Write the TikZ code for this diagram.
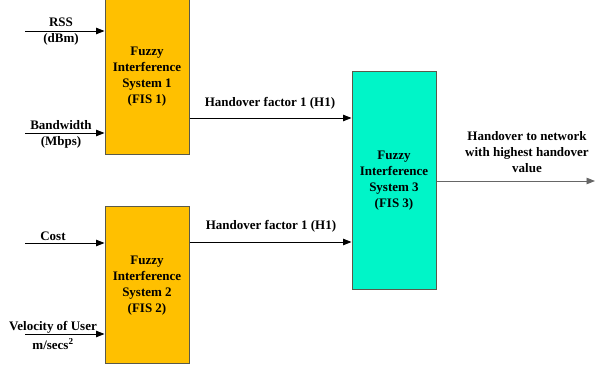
\documentclass[tikz,border=0pt]{standalone}
\usepackage{fontspec}
\setmainfont{Liberation Serif}
\usetikzlibrary{arrows.meta}
\definecolor{fisorange}{HTML}{FFC000}
\definecolor{fisteal}{HTML}{00F5C8}
\definecolor{fisborder}{HTML}{5A5A4A}
\begin{document}
\begin{tikzpicture}[x=1pt,y=1pt,
  fisbox/.style={draw=fisborder,line width=1pt,minimum width=84pt,inner sep=0pt,align=center,
    font=\fontsize{13}{16}\selectfont\bfseries},
  lbl/.style={inner sep=0pt,align=center,font=\fontsize{13}{16}\selectfont\bfseries},
  arr/.style={line width=0.9pt,-{Triangle[length=8.5pt,width=6.5pt]}}]
\useasboundingbox (0,0) rectangle (595,371);
\fill[white] (0,0) rectangle (595,371);
% boxes
\node[fisbox,fill=fisorange,minimum height=157pt] (fis1) at (147,371-76.5) {Fuzzy\\Interference\\System 1\\(FIS 1)};
\node[fisbox,fill=fisorange,minimum height=157pt] (fis2) at (147,371-285.5) {Fuzzy\\Interference\\System 2\\(FIS 2)};
\node[fisbox,fill=fisteal,minimum height=218pt] (fis3) at (394,371-181) {Fuzzy\\Interference\\System 3\\(FIS 3)};
% input start points
\coordinate (rssin) at (25,371-31);
\coordinate (bwin) at (25,371-133);
\coordinate (costin) at (25,371-243);
\coordinate (velin) at (25,371-334);
\coordinate (outend) at (595,371-181);
% arrows
\draw[arr] (rssin) -- (rssin -| fis1.west);
\draw[arr] (bwin) -- (bwin -| fis1.west);
\draw[arr] (costin) -- (costin -| fis2.west);
\draw[arr] (velin) -- (velin -| fis2.west);
\draw[arr] (fis1.east |- 0,371-118) -- (fis3.west |- 0,371-118);
\draw[arr] (fis2.east |- 0,371-242) -- (fis3.west |- 0,371-242);
\draw[arr,draw=gray!80!black] (fis3.east |- outend) -- (outend);
% labels
\node[lbl] (lrss) at (61,371-22) {RSS};
\node[lbl] (ldbm) at (61,371-39) {(dBm)};
\node[lbl] (lbw) at (61,371-125) {Bandwidth};
\node[lbl] (lmbps) at (61,371-142) {(Mbps)};
\node[lbl] (lcost) at (53,371-236) {Cost};
\node[lbl] (lvel) at (53,371-327) {Velocity of User};
\node[lbl] (lms) at (53,371-344) {m/secs\textsuperscript{2}};
\node[lbl] (lh1) at (270,371-103) {Handover factor 1 (H1)};
\node[lbl] (lh2) at (271,371-226) {Handover factor 1 (H1)};
\node[lbl] (lout) at (527,371-152) {Handover to network\\with highest handover\\value};
\end{tikzpicture}
\end{document}
